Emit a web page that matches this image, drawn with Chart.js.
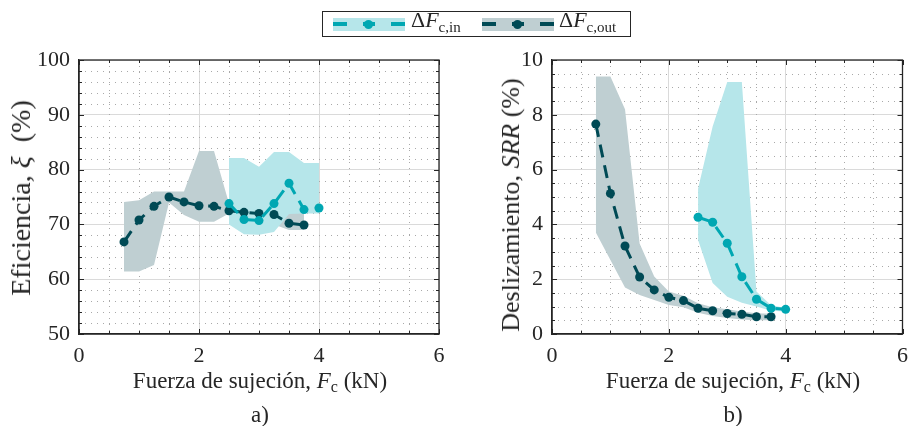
<!DOCTYPE html>
<html><head><meta charset="utf-8">
<script src="https://cdn.jsdelivr.net/npm/chart.js@4.4.1/dist/chart.umd.min.js"></script>
<style>
html,body{margin:0;padding:0;background:#fff}
body{width:917px;height:426px;position:relative;overflow:hidden;font-family:'Liberation Serif','Times New Roman',serif;color:#262626}
canvas{position:absolute;top:0}
#c1{left:0}
#c2{left:458px}
.t{position:absolute;white-space:nowrap;line-height:1}
.xt{font-size:23px;transform:translateX(-50%)}
.yt{font-size:26px;transform:translate(-50%,-50%) rotate(-90deg)}
.lab{font-size:23px;transform:translateX(-50%)}
#legend{position:absolute;left:322px;top:11px;width:309px;height:26px;border:1px solid #262626;box-sizing:border-box}
.sw{position:absolute}
.lt{position:absolute;font-size:22px;line-height:1;white-space:nowrap}
.lt sub{font-size:15px;vertical-align:-5px;line-height:0}
</style>
</head><body>
<canvas id="c1" width="458" height="426"></canvas>
<canvas id="c2" width="459" height="426"></canvas>

<div id="legend"></div>

<div class="t yt" style="left:21px;top:198px;font-size:28px">Eficiencia, <i>ξ</i>&nbsp; (%)</div>
<div class="t yt" style="left:511px;top:205px">Deslizamiento, <i>SRR</i> (%)</div>
<div class="t xt" style="left:260px;top:369px">Fuerza de sujeción, <i>F</i><sub style="font-size:16px;vertical-align:-4px;line-height:0">c</sub> (kN)</div>
<div class="t xt" style="left:733px;top:369px">Fuerza de sujeción, <i>F</i><sub style="font-size:16px;vertical-align:-4px;line-height:0">c</sub> (kN)</div>
<div class="t lab" style="left:260px;top:403px">a)</div>
<div class="t lab" style="left:733px;top:403px">b)</div>

<script>
// ---------- data ----------
const xOut = [0.75, 1.0, 1.25, 1.5, 1.75, 2.0, 2.25, 2.5, 2.75, 3.0, 3.25, 3.5, 3.75];
const xIn  = [2.5, 2.75, 3.0, 3.25, 3.5, 3.75, 4.0];

// a) Eficiencia (%)
const effOut   = [66.8, 70.8, 73.3, 75.0, 74.1, 73.4, 73.3, 72.5, 72.2, 72.0, 71.8, 70.2, 69.9];
const effOutHi = [74.1, 74.4, 76.0, 76.0, 76.0, 83.4, 83.4, 73.8, 73.4, 73.2, 72.4, 72.1, 72.1];
const effOutLo = [61.4, 61.4, 62.6, 74.0, 71.7, 70.5, 70.5, 72.0, 71.2, 70.8, 70.0, 69.0, 69.0];
const effIn    = [73.8, 70.9, 70.7, 73.8, 77.5, 72.7, 73.0];
const effInHi  = [82.1, 82.1, 80.5, 83.2, 83.2, 81.2, 81.2];
const effInLo  = [70.0, 68.2, 68.1, 68.6, 71.9, 72.0, 72.0];

// b) Deslizamiento SRR (%)
const srrOut   = [7.66, 5.13, 3.21, 2.08, 1.61, 1.34, 1.22, 0.94, 0.85, 0.75, 0.72, 0.63, 0.63];
const srrOutHi = [9.4, 9.4, 8.2, 3.3, 2.1, 1.55, 1.4, 1.12, 0.98, 0.9, 0.82, 0.76, 0.74];
const srrOutLo = [3.7, 2.7, 1.7, 1.42, 1.24, 1.06, 0.98, 0.78, 0.66, 0.58, 0.53, 0.5, 0.5];
const srrIn    = [4.26, 4.08, 3.31, 2.09, 1.27, 0.94, 0.90];
const srrInHi  = [5.3, 7.57, 9.2, 9.2, 1.55, 1.05, 0.95];
const srrInLo  = [3.43, 1.86, 1.36, 1.14, 1.0, 0.85, 0.82];

// ticks
const xTicks = [0, 2, 4, 6];
const effTicks = [50, 60, 70, 80, 90, 100];
const srrTicks = [0, 2, 4, 6, 8, 10];

const seriesLabels = ['ΔF c,in', 'ΔF c,out'];

// ---------- styles ----------
const colIn = '#00a7b2';
const colOut = '#004a55';
const bandIn = '#b6e6ea';
const bandOut = '#bfcfd2';
const txt = '#262626';
const FONT = "'Liberation Serif','Times New Roman',serif";

function pts(xs, ys){ return xs.map((x,i)=>({x:x, y:ys[i]})); }
function minorList(min, max, step, majorStep){
  const out=[]; const n=Math.round((max-min)/step);
  for(let i=1;i<n;i++){ const v=min+i*step; if(Math.abs(v/majorStep-Math.round(v/majorStep))>1e-6) out.push(v); }
  return out;
}

const decor = {
  id:'decor',
  beforeDatasetsDraw(chart, args, o){
    const {ctx, chartArea:a, scales:{x,y}} = chart;
    ctx.save();
    ctx.strokeStyle = '#a9a9a9'; ctx.lineWidth = 1; ctx.setLineDash([1,5]);
    o.xMinor.forEach(v=>{ const p=Math.round(x.getPixelForValue(v))+0.5; ctx.beginPath(); ctx.moveTo(p,a.top); ctx.lineTo(p,a.bottom); ctx.stroke(); });
    o.yMinor.forEach(v=>{ const p=Math.round(y.getPixelForValue(v))+0.5; ctx.beginPath(); ctx.moveTo(a.left,p); ctx.lineTo(a.right,p); ctx.stroke(); });
    ctx.restore();
  },
  afterDraw(chart, args, o){
    const {ctx, chartArea:a, scales:{x,y}} = chart;
    ctx.save();
    ctx.strokeStyle = txt; ctx.lineWidth = 1;
    const tick = (vals, len, isX) => vals.forEach(v=>{
      if(isX){ const p=Math.round(x.getPixelForValue(v))+0.5;
        ctx.beginPath(); ctx.moveTo(p,a.bottom); ctx.lineTo(p,a.bottom-len); ctx.moveTo(p,a.top); ctx.lineTo(p,a.top+len); ctx.stroke();
      } else { const p=Math.round(y.getPixelForValue(v))+0.5;
        ctx.beginPath(); ctx.moveTo(a.left,p); ctx.lineTo(a.left+len,p); ctx.moveTo(a.right,p); ctx.lineTo(a.right-len,p); ctx.stroke(); }
    });
    tick(o.xMinor, 3, true); tick(o.yMinor, 3, false);
    tick(o.xMajor, 5, true); tick(o.yMajor, 5, false);
    ctx.lineWidth = 1.3;
    ctx.strokeRect(a.left, a.top, a.right-a.left, a.bottom-a.top);
    ctx.restore();
  }
};

function makeChart(id, cfg){
  const ds = [
    {label:'outHi', data:pts(xOut,cfg.outHi), borderWidth:0, borderColor:'rgba(0,0,0,0)', pointRadius:0, fill:'+1', backgroundColor:bandOut, order:10},
    {label:'outLo', data:pts(xOut,cfg.outLo), borderWidth:0, borderColor:'rgba(0,0,0,0)', pointRadius:0, fill:false, order:10},
    {label:'inHi', data:pts(xIn,cfg.inHi), borderWidth:0, borderColor:'rgba(0,0,0,0)', pointRadius:0, fill:'+1', backgroundColor:bandIn, order:9},
    {label:'inLo', data:pts(xIn,cfg.inLo), borderWidth:0, borderColor:'rgba(0,0,0,0)', pointRadius:0, fill:false, order:9},
    {label:seriesLabels[1], data:pts(xOut,cfg.out), borderColor:colOut, borderWidth:3, borderDash:[13,8], pointRadius:4.5, pointBackgroundColor:colOut, pointBorderWidth:0, fill:false, order:2},
    {label:seriesLabels[0], data:pts(xIn,cfg.inn), borderColor:colIn, borderWidth:3, borderDash:[13,8], pointRadius:4.5, pointBackgroundColor:colIn, pointBorderWidth:0, fill:false, order:1}
  ];
  return new Chart(document.getElementById(id), {
    type:'line',
    data:{datasets:ds},
    options:{
      responsive:false, animation:false, devicePixelRatio:1,
      layout:{padding:{top:60, left:0, right:cfg.padRight, bottom:0}},
      elements:{line:{tension:0}},
      plugins:{legend:{display:false}, tooltip:{enabled:false},
        decor:{xMinor:minorList(0,6,0.5,2), yMinor:cfg.yMinor, xMajor:xTicks, yMajor:cfg.yTicks}},
      scales:{
        x:{type:'linear', min:0, max:6,
          afterBuildTicks:(s)=>{ s.ticks = xTicks.map(v=>({value:v})); },
          afterFit:(s)=>{ s.height = 92; },
          ticks:{font:{family:FONT,size:22}, color:txt, padding:9, maxRotation:0},
          grid:{color:'#dadada', lineWidth:1, drawTicks:false},
          border:{color:txt, width:1.3}},
        y:{type:'linear', min:cfg.yMin, max:cfg.yMax,
          afterBuildTicks:(s)=>{ s.ticks = cfg.yTicks.map(v=>({value:v})); },
          afterFit:(s)=>{ s.width = cfg.yWidth; },
          ticks:{font:{family:FONT,size:22}, color:txt, padding:9},
          grid:{color:'#dadada', lineWidth:1, drawTicks:false},
          border:{color:txt, width:1.3}}
      }
    },
    plugins:[decor]
  });
}

makeChart('c1', {out:effOut, outHi:effOutHi, outLo:effOutLo, inn:effIn, inHi:effInHi, inLo:effInLo,
  yMin:50, yMax:100, yTicks:effTicks, yMinor:minorList(50,100,2,10), yWidth:79, padRight:19});
makeChart('c2', {out:srrOut, outHi:srrOutHi, outLo:srrOutLo, inn:srrIn, inHi:srrInHi, inLo:srrInLo,
  yMin:0, yMax:10, yTicks:srrTicks, yMinor:minorList(0,10,0.5,2), yWidth:94, padRight:5});

// ---------- legend (HTML) ----------
function legendItem(left, textLeft, band, col, sub){
  const L = document.getElementById('legend');
  const off = 323; // legend box left + border
  const add = (html)=>{ L.insertAdjacentHTML('beforeend', html); };
  add(`<div class="sw" style="left:${left-off}px;top:6px;width:72px;height:13px;background:${band}"></div>`);
  add(`<div class="sw" style="left:${left-off}px;top:10px;width:14px;height:4px;background:${col}"></div>`);
  add(`<div class="sw" style="left:${left-off+58}px;top:10px;width:14px;height:4px;background:${col}"></div>`);
  add(`<div class="sw" style="left:${left-off+30}px;top:10px;width:12px;height:4px;background:${col}"></div>`);
  add(`<div class="sw" style="left:${left-off+31}px;top:8px;width:9px;height:9px;border-radius:50%;background:${col}"></div>`);
  add(`<div class="lt" style="left:${textLeft-off}px;top:-3px">Δ<i>F</i><sub>${sub}</sub></div>`);
}
legendItem(333, 411, bandIn, colIn, 'c,in');
legendItem(482, 559, bandOut, colOut, 'c,out');
</script>
</body></html>
